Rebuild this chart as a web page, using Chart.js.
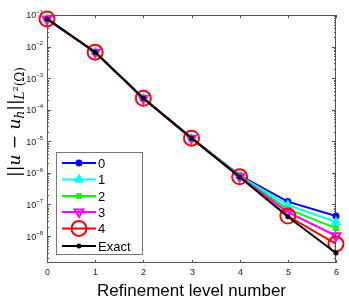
<!DOCTYPE html>
<html>
<head>
<meta charset="utf-8">
<script src="https://cdn.jsdelivr.net/npm/chart.js@4"></script>
<style>
  html, body { margin: 0; padding: 0; background: #fff; }
  #wrap { width: 349px; height: 300px; }
</style>
</head>
<body>
<div id="wrap"><canvas id="c" width="349" height="300"></canvas></div>
<script>
// refinement levels and errors
var levels = [0, 1, 2, 3, 4, 5, 6];
var err0 = [7.5e-2, 6.6e-3, 2.3e-4, 1.26e-5, 8.4e-7, 1.23e-7, 4.3e-8];
var err1 = [7.5e-2, 6.6e-3, 2.3e-4, 1.26e-5, 8.0e-7, 9.6e-8, 2.8e-8];
var err2 = [7.5e-2, 6.6e-3, 2.3e-4, 1.26e-5, 7.8e-7, 7.1e-8, 1.78e-8];
var err3 = [7.5e-2, 6.6e-3, 2.3e-4, 1.26e-5, 7.6e-7, 5.7e-8, 1.02e-8];
var err4 = [7.5e-2, 6.6e-3, 2.3e-4, 1.26e-5, 7.5e-7, 4.3e-8, 5.6e-9];
var errExact = [7.5e-2, 6.6e-3, 2.3e-4, 1.26e-5, 7.4e-7, 4.1e-8, 2.9e-9];
var seriesNames = ['0', '1', '2', '3', '4', 'Exact'];
var yExponents = [-1, -2, -3, -4, -5, -6, -7, -8];

function toPoints(arr) {
  return arr.map(function (v, i) { return { x: levels[i], y: v }; });
}

function makeSet(label, arr, color, style, radius, fill, rot, order) {
  return {
    label: label,
    data: toPoints(arr),
    borderColor: color,
    backgroundColor: fill,
    pointBorderColor: color,
    pointBackgroundColor: fill,
    pointStyle: style,
    pointRadius: radius,
    pointHoverRadius: radius,
    pointRotation: rot,
    pointBorderWidth: 2,
    borderWidth: 2,
    tension: 0,
    clip: false,
    order: order
  };
}

// draws the matlab-like box, inward ticks, tick labels, titles and legend
var decorPlugin = {
  id: 'decor',
  beforeDatasetsDraw: function (chart) {
    var ctx = chart.ctx;
    var a = chart.chartArea;
    var xs = chart.scales.x;
    var ys = chart.scales.y;
    ctx.save();

    // box
    ctx.strokeStyle = '#555';
    ctx.lineWidth = 1;
    ctx.strokeRect(a.left + 0.5, a.top + 0.5, a.right - a.left - 1, a.bottom - a.top - 1);

    // x ticks (bottom and top) and labels
    ctx.fillStyle = '#222';
    ctx.font = '9px "Liberation Sans", Arial, sans-serif';
    ctx.textAlign = 'center';
    ctx.textBaseline = 'top';
    levels.forEach(function (lv) {
      var px = Math.round(xs.getPixelForValue(lv)) + 0.5;
      ctx.beginPath();
      ctx.moveTo(px, a.bottom); ctx.lineTo(px, a.bottom - 3);
      ctx.moveTo(px, a.top); ctx.lineTo(px, a.top + 3);
      ctx.stroke();
      ctx.fillText(String(lv), px, a.bottom + 5);
    });

    // y major + minor ticks, both sides
    for (var e = -9; e <= -1; e++) {
      for (var m = 1; m <= 9; m++) {
        var v = m * Math.pow(10, e);
        if (v < ys.min || v > ys.max * 1.0001) continue;
        var py = Math.round(ys.getPixelForValue(v)) + 0.5;
        var len = m === 1 ? 4 : 2;
        ctx.beginPath();
        ctx.moveTo(a.left, py); ctx.lineTo(a.left + len, py);
        ctx.moveTo(a.right, py); ctx.lineTo(a.right - len, py);
        ctx.stroke();
      }
    }

    // y labels 10^k
    ctx.textBaseline = 'middle';
    ctx.textAlign = 'left';
    yExponents.forEach(function (k) {
      var py = ys.getPixelForValue(Math.pow(10, k));
      var expTxt = '\u2212' + String(-k);
      ctx.font = '6px "Liberation Sans", Arial, sans-serif';
      var ew = ctx.measureText(expTxt).width;
      ctx.font = '9px "Liberation Sans", Arial, sans-serif';
      var bw = ctx.measureText('10').width;
      var x0 = a.left - 4 - ew - bw;
      ctx.fillText('10', x0, py + 1);
      ctx.font = '6px "Liberation Sans", Arial, sans-serif';
      ctx.fillText(expTxt, x0 + bw, py - 3);
    });

    // x title
    ctx.fillStyle = '#000';
    ctx.font = '17px "Liberation Sans", Arial, sans-serif';
    ctx.textAlign = 'center';
    ctx.textBaseline = 'alphabetic';
    ctx.fillText('Refinement level number', (a.left + a.right) / 2, 296);

    // y title, rotated, pieces with sub/superscripts
    ctx.save();
    ctx.translate(20, 122);
    ctx.rotate(-Math.PI / 2);
    var parts = [
      { t: '||', f: '17px "DejaVu Serif", serif', dy: 0 },
      { t: 'u', f: 'italic 17px "DejaVu Serif", serif', dy: 0 },
      { t: ' \u2212 ', f: '17px "DejaVu Serif", serif', dy: 0 },
      { t: 'u', f: 'italic 17px "DejaVu Serif", serif', dy: 0 },
      { t: 'h', f: 'italic 12px "DejaVu Serif", serif', dy: 4 },
      { t: '||', f: '17px "DejaVu Serif", serif', dy: 0 },
      { t: 'L', f: 'italic 12px "DejaVu Serif", serif', dy: 4 },
      { t: '2', f: '8px "DejaVu Serif", serif', dy: -2 },
      { t: '(\u03A9)', f: '12px "DejaVu Serif", serif', dy: 4 }
    ];
    var total = 0;
    parts.forEach(function (p) { ctx.font = p.f; p.w = ctx.measureText(p.t).width; total += p.w; });
    var cx = -total / 2;
    ctx.textAlign = 'left';
    parts.forEach(function (p) {
      ctx.font = p.f;
      ctx.fillText(p.t, cx, p.dy);
      cx += p.w;
    });
    ctx.restore();

    ctx.restore();
  },
  afterDatasetsDraw: function (chart) {
    var ctx = chart.ctx;
    ctx.save();
    // legend
    var lx = 56, ly = 152, lw = 86, lh = 102;
    ctx.fillStyle = '#fff';
    ctx.fillRect(lx, ly, lw, lh);
    ctx.strokeStyle = '#777';
    ctx.lineWidth = 1;
    ctx.strokeRect(lx + 0.5, ly + 0.5, lw, lh);
    var rowY = [163, 179.5, 196, 212, 228.5, 246];
    chart.data.datasets.forEach(function (ds, i) {
      var y = rowY[i];
      ctx.strokeStyle = ds.borderColor;
      ctx.lineWidth = 2;
      ctx.beginPath();
      ctx.moveTo(62, y); ctx.lineTo(96, y);
      ctx.stroke();
      ctx.fillStyle = ds.pointBackgroundColor;
      ctx.strokeStyle = ds.pointBorderColor;
      ctx.lineWidth = 2;
      Chart.helpers.drawPoint(ctx, {
        pointStyle: ds.pointStyle,
        rotation: ds.pointRotation,
        radius: ds.pointRadius,
        borderWidth: 2
      }, 79, y);
      ctx.fillStyle = '#000';
      ctx.font = '13px "Liberation Sans", Arial, sans-serif';
      ctx.textAlign = 'left';
      ctx.textBaseline = 'middle';
      ctx.fillText(ds.label, 98, y + 1);
    });
    ctx.restore();
  }
};

var ctx = document.getElementById('c').getContext('2d');
new Chart(ctx, {
  type: 'line',
  data: {
    datasets: [
      makeSet(seriesNames[0], err0, '#0000ff', 'circle', 2.5, '#0000ff', 0, 5),
      makeSet(seriesNames[1], err1, '#00ffff', 'triangle', 4, '#00ffff', 0, 4),
      makeSet(seriesNames[2], err2, '#00ff00', 'rect', 2.5, '#00ff00', 0, 3),
      makeSet(seriesNames[3], err3, '#ff00ff', 'triangle', 5, 'rgba(0,0,0,0)', 180, 2),
      makeSet(seriesNames[4], err4, '#ff0000', 'circle', 7.5, 'rgba(0,0,0,0)', 0, 1),
      makeSet(seriesNames[5], errExact, '#000000', 'circle', 1.5, '#000000', 0, 0)
    ]
  },
  options: {
    responsive: false,
    animation: false,
    events: [],
    layout: { padding: { top: 15, right: 13, left: 0, bottom: 0 } },
    plugins: { legend: { display: false }, tooltip: { enabled: false } },
    scales: {
      x: {
        type: 'linear',
        min: 0,
        max: 6,
        grid: { display: false },
        border: { display: false },
        ticks: { display: false },
        afterFit: function (s) { s.height = 37; }
      },
      y: {
        type: 'logarithmic',
        min: 1.4e-9,
        max: 1e-1,
        grid: { display: false },
        border: { display: false },
        ticks: { display: false },
        afterFit: function (s) { s.width = 47; }
      }
    }
  },
  plugins: [decorPlugin]
});
</script>
</body>
</html>
